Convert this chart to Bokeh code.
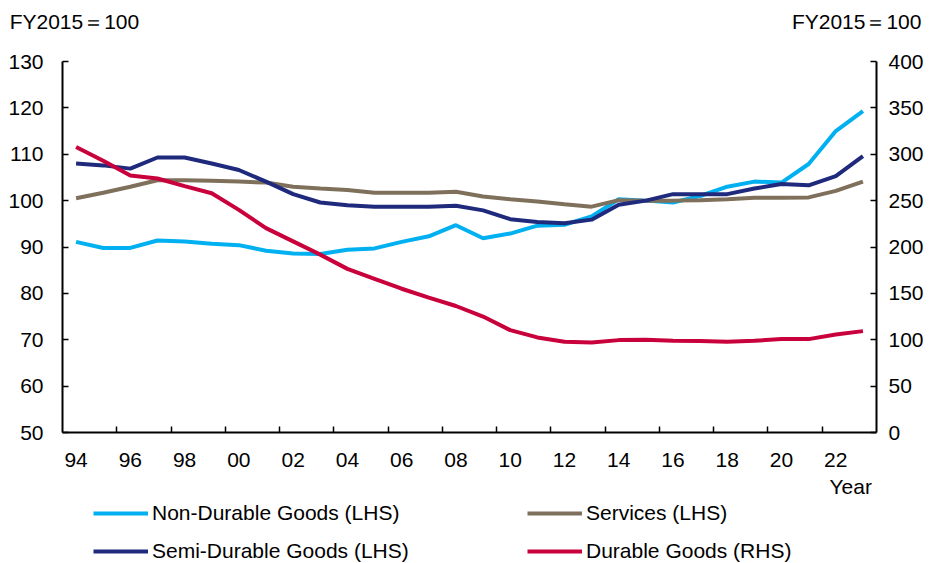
from bokeh.plotting import figure
from bokeh.models import Range1d, LinearAxis, FixedTicker, Legend, LegendItem
from bokeh.layouts import column
from bokeh.embed import file_html
from bokeh.resources import INLINE

years = list(range(1994, 2024))
non_durable = [91.1, 89.8, 89.8, 91.4, 91.2, 90.7, 90.4, 89.2, 88.6, 88.5,
               89.4, 89.7, 91.1, 92.3, 94.7, 91.9, 92.9, 94.6, 94.8, 96.6,
               100.3, 100.0, 99.6, 101.0, 103.0, 104.1, 103.9, 107.9, 115.0, 119.3]
services = [100.5, 101.7, 103.0, 104.4, 104.4, 104.3, 104.1, 103.9, 103.0, 102.6,
            102.3, 101.7, 101.7, 101.7, 101.9, 100.9, 100.3, 99.8, 99.2, 98.7,
            100.1, 100.0, 100.0, 100.1, 100.3, 100.6, 100.6, 100.7, 102.1, 104.1]
semi_durable = [108.0, 107.6, 106.9, 109.3, 109.3, 108.0, 106.6, 104.1, 101.4, 99.6,
                99.0, 98.7, 98.7, 98.7, 98.9, 97.9, 96.0, 95.4, 95.1, 95.9,
                99.1, 100.0, 101.4, 101.4, 101.4, 102.6, 103.6, 103.3, 105.3, 109.6]
durable = [307.9, 292.9, 277.1, 273.9, 265.7, 257.9, 240.0, 220.4, 206.1, 191.8,
           176.4, 165.7, 155.0, 145.4, 136.4, 125.0, 110.4, 102.5, 97.9, 97.1,
           99.6, 100.0, 98.9, 98.6, 97.9, 98.9, 100.7, 100.7, 105.7, 109.3]

x_tick_years = list(range(1994, 2023, 2))
x_tick_labels = [f"{y % 100:02d}" for y in x_tick_years]
left_ticks = list(range(50, 131, 10))
right_ticks = list(range(0, 401, 50))

series_names = ["Non-Durable Goods (LHS)", "Services (LHS)",
                "Semi-Durable Goods (LHS)", "Durable Goods (RHS)"]
colors = ["#00B0F0", "#7F705C", "#1F2A7C", "#C8003C"]
unit_text = "FY2015＝100"
x_title = "Year"

FONT = "Liberation Sans"
FS = "21px"

p = figure(width=933, height=500, output_backend="svg", toolbar_location=None,
           x_range=Range1d(1993.5, 2023.5), y_range=Range1d(50, 130),
           min_border_left=62, min_border_right=57, min_border_top=61,
           min_border_bottom=67)
p.outline_line_color = None
p.grid.visible = False
p.background_fill_color = "white"
p.border_fill_color = "white"

p.extra_y_ranges = {"rhs": Range1d(0, 400)}


def style_labels(ax):
    ax.major_label_text_font = FONT
    ax.major_label_text_font_size = FS
    ax.major_label_text_color = "black"


# x axis (tick marks between categories, labels on categories)
xa = p.xaxis[0]
xa.ticker = FixedTicker(ticks=x_tick_years,
                        minor_ticks=[y + 1.5 for y in x_tick_years[:-1]])
xa.major_label_overrides = {y: lab for y, lab in zip(x_tick_years, x_tick_labels)}
xa.major_tick_line_color = None
xa.minor_tick_in = 6
xa.minor_tick_out = 0
xa.minor_tick_line_color = "black"
xa.minor_tick_line_width = 1.5
xa.axis_line_width = 2
xa.axis_line_color = "black"
xa.major_label_standoff = 14
style_labels(xa)

# "Year" title as a label-only axis under the x axis
year_pos = 2022.55
ya2 = LinearAxis(ticker=FixedTicker(ticks=[year_pos]),
                 major_label_overrides={year_pos: x_title})
ya2.axis_line_color = None
ya2.major_tick_line_color = None
ya2.minor_tick_line_color = None
ya2.major_label_standoff = -1
style_labels(ya2)
p.add_layout(ya2, "below")

# unit labels above the plot, as a label-only axis
unit_pos = [1993.94, 2022.77]
ua = LinearAxis(ticker=FixedTicker(ticks=unit_pos),
                major_label_overrides={u: unit_text for u in unit_pos})
ua.axis_line_color = None
ua.major_tick_line_color = None
ua.minor_tick_line_color = None
ua.major_label_standoff = 23
style_labels(ua)
p.add_layout(ua, "above")

# left axis
ya = p.yaxis[0]
ya.ticker = FixedTicker(ticks=left_ticks)
ya.major_tick_in = 6
ya.major_tick_out = 0
ya.minor_tick_line_color = None
ya.major_tick_line_width = 1.5
ya.axis_line_width = 2
ya.axis_line_color = "black"
ya.major_label_standoff = 19
style_labels(ya)

# right axis
ra = LinearAxis(y_range_name="rhs", ticker=FixedTicker(ticks=right_ticks))
ra.major_tick_in = 6
ra.major_tick_out = 0
ra.minor_tick_line_color = None
ra.major_tick_line_width = 1.5
ra.axis_line_width = 2
ra.axis_line_color = "black"
ra.major_label_standoff = 12
style_labels(ra)
p.add_layout(ra, "right")

p.line(years, non_durable, line_width=4, color=colors[0])
p.line(years, services, line_width=4, color=colors[1])
p.line(years, semi_durable, line_width=4, color=colors[2])
p.line(years, durable, line_width=4, color=colors[3], y_range_name="rhs")

# legend strip below the chart (its own small figure)
lg = figure(width=933, height=63, output_backend="svg", toolbar_location=None,
            x_axis_type=None, y_axis_type=None,
            x_range=Range1d(1993.5, 2023.5), y_range=Range1d(50, 130),
            min_border=0)
lg.outline_line_color = None
lg.grid.visible = False
series = [non_durable, services, semi_durable, durable]
lrs = [lg.line(years, s, line_width=4, color=c, visible=False)
       for s, c in zip(series, colors)]


def make_legend(idx, x):
    return Legend(items=[LegendItem(label=series_names[i], renderers=[lrs[i]]) for i in idx],
                  location=(x, 0), orientation="vertical",
                  glyph_width=55, glyph_height=24, label_height=24,
                  label_standoff=4, spacing=14,
                  padding=0, margin=0, border_line_color=None,
                  background_fill_alpha=0,
                  label_text_font=FONT, label_text_font_size=FS,
                  label_text_color="black")


lg.add_layout(make_legend([0, 2], 31), "center")
lg.add_layout(make_legend([1, 3], 465), "center")

layout = column(p, lg, spacing=0)
open("out.html", "w").write(file_html(layout, INLINE))
